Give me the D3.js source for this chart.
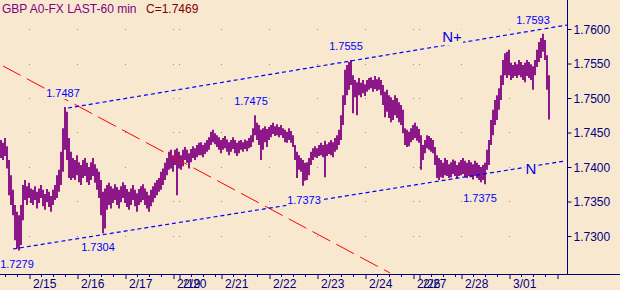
<!DOCTYPE html>
<html><head><meta charset="utf-8">
<script src="https://cdn.jsdelivr.net/npm/d3@7"></script>
<style>html,body{margin:0;padding:0;background:#F8E8D0;}svg{display:block;}</style>
</head><body>
<script>
const dayLabels = ["2/15","2/16","2/17","2/19","2/20","2/21","2/22","2/23","2/24","2/26","2/27","2/28","3/01",""];
const dayBars   = [14,38,62,86,89,110,134,158,182,206,209,230,254,278];
const priceTicks = [1.7300,1.7350,1.7400,1.7450,1.7500,1.7550,1.7600];
const highs = [
1.7439,1.7435,1.7442,1.7430,1.7410,1.7388,1.7367,1.7345,1.7335,1.7330,
1.7345,1.7374,1.7381,1.7372,1.7377,1.7369,1.7367,1.7372,1.7364,1.7369,
1.7374,1.7367,1.7361,1.7368,1.7364,1.7358,1.7367,1.7374,1.7388,1.7396,
1.7422,1.7456,1.7487,1.7480,1.7442,1.7422,1.7413,1.7410,1.7417,1.7407,
1.7403,1.7410,1.7413,1.7406,1.7400,1.7407,1.7413,1.7404,1.7398,1.7393,
1.7381,1.7364,1.7369,1.7374,1.7377,1.7372,1.7369,1.7375,1.7371,1.7367,
1.7372,1.7378,1.7374,1.7368,1.7364,1.7369,1.7374,1.7367,1.7362,1.7368,
1.7372,1.7375,1.7369,1.7364,1.7359,1.7367,1.7372,1.7377,1.7381,1.7384,
1.7393,1.7398,1.7406,1.7413,1.7422,1.7425,1.7417,1.7425,1.7427,1.7422,
1.7417,1.7425,1.7429,1.7425,1.7420,1.7426,1.7430,1.7427,1.7432,1.7435,
1.7436,1.7432,1.7435,1.7439,1.7443,1.7451,1.7454,1.7449,1.7446,1.7443,
1.7439,1.7442,1.7445,1.7440,1.7436,1.7439,1.7443,1.7439,1.7435,1.7438,
1.7439,1.7436,1.7440,1.7438,1.7442,1.7446,1.7456,1.7475,1.7464,1.7461,
1.7454,1.7456,1.7459,1.7455,1.7458,1.7461,1.7464,1.7459,1.7462,1.7458,
1.7461,1.7456,1.7454,1.7451,1.7456,1.7452,1.7446,1.7432,1.7422,1.7417,
1.7413,1.7410,1.7406,1.7407,1.7413,1.7422,1.7427,1.7430,1.7427,1.7432,
1.7435,1.7432,1.7438,1.7433,1.7436,1.7439,1.7436,1.7442,1.7446,1.7454,
1.7475,1.7504,1.7541,1.7548,1.7552,1.7555,1.7533,1.7526,1.7523,1.7529,
1.7522,1.7526,1.7520,1.7526,1.7529,1.7530,1.7526,1.7532,1.7527,1.7530,
1.7526,1.7519,1.7509,1.7512,1.7504,1.7501,1.7497,1.7504,1.7500,1.7494,
1.7490,1.7483,1.7456,1.7454,1.7451,1.7456,1.7461,1.7464,1.7459,1.7455,
1.7446,1.7432,1.7439,1.7446,1.7445,1.7442,1.7439,1.7429,1.7417,1.7413,
1.7410,1.7406,1.7413,1.7410,1.7404,1.7407,1.7411,1.7409,1.7403,1.7407,
1.7410,1.7413,1.7409,1.7406,1.7410,1.7407,1.7404,1.7409,1.7406,1.7403,
1.7400,1.7403,1.7406,1.7425,1.7439,1.7468,1.7483,1.7497,1.7504,1.7514,
1.7533,1.7555,1.7565,1.7567,1.7570,1.7551,1.7548,1.7552,1.7549,1.7555,
1.7552,1.7548,1.7551,1.7555,1.7552,1.7549,1.7546,1.7555,1.7570,1.7581,
1.7587,1.7593,1.7584,1.7562,1.7533];
const lows = [
1.7413,1.7410,1.7416,1.7398,1.7359,1.7345,1.7330,1.7294,1.7282,1.7279,
1.7287,1.7323,1.7352,1.7345,1.7355,1.7348,1.7345,1.7352,1.7340,1.7348,
1.7355,1.7343,1.7338,1.7349,1.7342,1.7335,1.7345,1.7352,1.7355,1.7364,
1.7374,1.7393,1.7425,1.7410,1.7384,1.7381,1.7384,1.7381,1.7388,1.7378,
1.7374,1.7384,1.7387,1.7378,1.7374,1.7381,1.7387,1.7377,1.7367,1.7355,
1.7330,1.7304,1.7311,1.7338,1.7345,1.7340,1.7348,1.7352,1.7345,1.7340,
1.7349,1.7355,1.7348,1.7342,1.7338,1.7345,1.7352,1.7343,1.7335,1.7345,
1.7349,1.7352,1.7345,1.7340,1.7335,1.7343,1.7349,1.7355,1.7359,1.7364,
1.7367,1.7374,1.7381,1.7388,1.7396,1.7398,1.7393,1.7403,1.7359,1.7398,
1.7396,1.7401,1.7410,1.7406,1.7398,1.7407,1.7413,1.7410,1.7414,1.7417,
1.7417,1.7414,1.7419,1.7422,1.7425,1.7432,1.7436,1.7433,1.7429,1.7425,
1.7420,1.7425,1.7427,1.7422,1.7417,1.7422,1.7426,1.7420,1.7416,1.7420,
1.7425,1.7422,1.7426,1.7423,1.7427,1.7429,1.7436,1.7446,1.7439,1.7432,
1.7410,1.7425,1.7436,1.7429,1.7439,1.7443,1.7448,1.7445,1.7446,1.7443,
1.7446,1.7442,1.7436,1.7435,1.7439,1.7435,1.7429,1.7410,1.7384,1.7396,
1.7393,1.7373,1.7380,1.7381,1.7388,1.7403,1.7410,1.7414,1.7413,1.7416,
1.7417,1.7414,1.7385,1.7416,1.7419,1.7417,1.7414,1.7422,1.7425,1.7432,
1.7439,1.7461,1.7490,1.7504,1.7512,1.7519,1.7478,1.7501,1.7475,1.7504,
1.7501,1.7507,1.7503,1.7509,1.7512,1.7514,1.7509,1.7513,1.7510,1.7512,
1.7504,1.7490,1.7472,1.7480,1.7471,1.7465,1.7468,1.7475,1.7471,1.7465,
1.7461,1.7449,1.7432,1.7429,1.7430,1.7436,1.7439,1.7442,1.7438,1.7435,
1.7396,1.7410,1.7420,1.7427,1.7425,1.7422,1.7420,1.7403,1.7384,1.7381,
1.7385,1.7384,1.7388,1.7387,1.7384,1.7385,1.7390,1.7387,1.7384,1.7387,
1.7388,1.7390,1.7385,1.7384,1.7387,1.7385,1.7382,1.7387,1.7384,1.7381,
1.7378,1.7381,1.7375,1.7396,1.7403,1.7432,1.7446,1.7461,1.7468,1.7483,
1.7497,1.7519,1.7533,1.7529,1.7533,1.7526,1.7529,1.7532,1.7529,1.7533,
1.7530,1.7526,1.7523,1.7532,1.7529,1.7526,1.7512,1.7533,1.7545,1.7552,
1.7558,1.7567,1.7555,1.7512,1.7469];
const annoText  = ["1.7487","1.7475","1.7555","1.7593","1.7279","1.7304","1.7373","1.7375"];
const annoBar   = [31,125,172.5,266,8,48.5,151.5,239.5];
const annoPrice = [1.7487,1.7475,1.7555,1.7593,1.7279,1.7304,1.7373,1.7375];
const annoSide  = ["above","above","above","above","below","below","below","below"];
const channelUpper = [[33.5,1.74855],[283,1.76058]];
const channelLower = [[6,1.72812],[282,1.74087]];
const trendRed     = [[1,1.75464],[194.5,1.72464]];
const channelNames = ["N+","N"];
const channelNameBar = [225.5,265];
const channelNamePrice = [1.75806,1.73899];

const W=620,H=290, axisX=567, axisY=274;
const svg=d3.select("body").append("svg").attr("width",W).attr("height",H);
svg.append("rect").attr("width",W).attr("height",H).attr("fill","#F8E8D0");
const x=d3.scaleLinear().domain([-0.5,283]).range([0,axisX]);
const y=d3.scaleLinear().domain([1.73,1.76]).range([236,29]);
const font="'Liberation Sans', Arial, sans-serif";

// grid dots
const dotBars = dayBars.slice(0,dayBars.length-1);
dotBars.forEach(b=>priceTicks.forEach(p=>{
  svg.append("rect").attr("x",Math.round(x(b))).attr("y",Math.round(y(p))).attr("width",1).attr("height",1).attr("fill","#9A8A70");
}));

// price bars
svg.append("g").selectAll("line").data(highs).join("line")
  .attr("x1",(d,i)=>x(i)).attr("x2",(d,i)=>x(i))
  .attr("y1",d=>y(d)).attr("y2",(d,i)=>y(lows[i]))
  .attr("stroke","#800080").attr("stroke-width",1.8);

const line=d3.line().x(d=>x(d[0])).y(d=>y(d[1]));
svg.append("path").attr("d",line(trendRed)).attr("fill","none").attr("stroke","#FF0000").attr("stroke-width",1).attr("stroke-dasharray","20,7");
svg.append("path").attr("d",line(channelUpper)).attr("fill","none").attr("stroke","#0000FF").attr("stroke-width",1.2).attr("stroke-dasharray","4,3");
svg.append("path").attr("d",line(channelLower)).attr("fill","none").attr("stroke","#0000FF").attr("stroke-width",1.2).attr("stroke-dasharray","4,3");

function boxedText(tx,ty,str,size,color){
  const g=svg.append("g");
  const r=g.append("rect").attr("fill","#F8E8D0");
  const t=g.append("text").attr("x",tx).attr("y",ty).attr("text-anchor","middle")
    .attr("font-family",font).attr("font-size",size).attr("fill",color).text(str);
  const bb=t.node().getBBox();
  r.attr("x",bb.x-1).attr("y",bb.y+1).attr("width",bb.width+2).attr("height",bb.height-1);
}
annoText.forEach((s,i)=>{
  const ty = annoSide[i]==="above" ? y(annoPrice[i])-10 : y(annoPrice[i])+18;
  boxedText(x(annoBar[i]), ty, s, 11, "#0000FF");
});
channelNames.forEach((s,i)=>boxedText(x(channelNameBar[i]), y(channelNamePrice[i]), s, 15, "#0000E0"));

// axes
const navy="#000080";
svg.append("line").attr("x1",0).attr("x2",W).attr("y1",axisY+0.5).attr("y2",axisY+0.5).attr("stroke",navy);
svg.append("line").attr("x1",axisX+0.5).attr("x2",axisX+0.5).attr("y1",0).attr("y2",axisY).attr("stroke",navy);

const yAxis=d3.axisRight(y).tickValues(priceTicks).tickFormat(d3.format(".4f")).tickSize(4).tickPadding(2);
const gy=svg.append("g").attr("transform",`translate(${axisX+0.5},0)`).call(yAxis);
gy.select(".domain").remove();
gy.selectAll("line").attr("stroke",navy);
gy.selectAll("text").attr("fill",navy).attr("font-family",font).attr("font-size",12).attr("dy","0.36em");

// minor ticks
const minor=[];
[2,8].forEach(b=>minor.push(b));
dayBars.forEach((b,i)=>{ if(i<dayBars.length-1 && dayBars[i+1]-b<6) return; [6,12,18].forEach(o=>{ if(b+o<283) minor.push(b+o);}); });
svg.append("g").selectAll("line").data(minor).join("line")
  .attr("x1",d=>Math.round(x(d))+0.5).attr("x2",d=>Math.round(x(d))+0.5)
  .attr("y1",axisY).attr("y2",axisY+3).attr("stroke",navy);

const xAxis=d3.axisBottom(x).tickValues(dayBars).tickFormat((d,i)=>dayLabels[i]).tickSize(5).tickPadding(4);
const gx=svg.append("g").attr("transform",`translate(0.5,${axisY})`).call(xAxis);
gx.select(".domain").remove();
gx.selectAll("line").attr("stroke",navy);
gx.selectAll("text").attr("fill",navy).attr("font-family",font).attr("font-size",12)
  .attr("text-anchor","start").attr("x",3).attr("y",0).attr("dy",null).attr("transform","translate(0,14)");

// title
const title=svg.append("text").attr("x",2).attr("y",13).attr("font-family",font).attr("font-size",12);
title.append("tspan").attr("fill","#800080").text("GBP A0-FX LAST-60 min");
title.append("tspan").attr("fill","#800000").attr("x",146).text("C=1.7469");
</script>
</body></html>
